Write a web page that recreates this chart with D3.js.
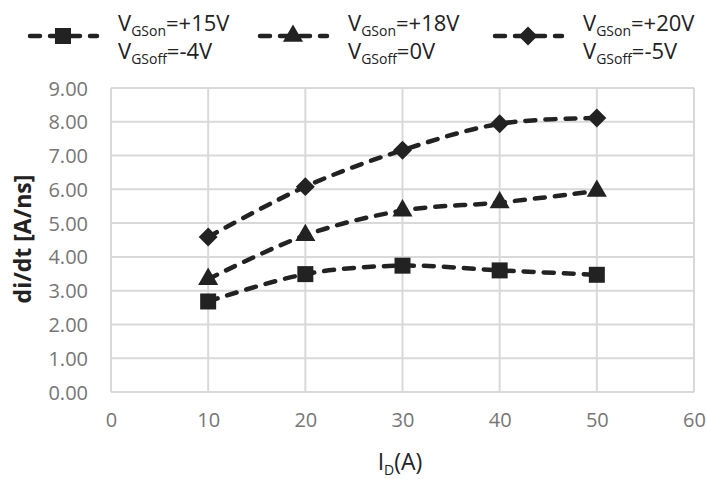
<!DOCTYPE html>
<html>
<head>
<meta charset="utf-8">
<script src="https://cdn.jsdelivr.net/npm/d3@7"></script>
<style>
  body { margin: 0; background: #fff; }
  text { font-family: "Open Sans", sans-serif; }
</style>
</head>
<body>
<svg id="chart" width="706" height="479"></svg>
<script>
const currents = [10, 20, 30, 40, 50]
const vgs15 = [2.68, 3.49, 3.74, 3.60, 3.47]
const vgs18 = [3.34, 4.64, 5.37, 5.61, 5.95]
const vgs20 = [4.59, 6.08, 7.16, 7.94, 8.11]
const xTicks = [0, 10, 20, 30, 40, 50, 60]
const yTicks = [0, 1, 2, 3, 4, 5, 6, 7, 8, 9]

const series = [
  { on: "+15V", off: "-4V", values: vgs15, marker: "square" },
  { on: "+18V", off: "0V", values: vgs18, marker: "triangle" },
  { on: "+20V", off: "-5V", values: vgs20, marker: "diamond" }
]

const ink = "#222"
const svg = d3.select("#chart")

const x = d3.scaleLinear().domain([0, 60]).range([111, 694])
const y = d3.scaleLinear().domain([0, 9]).range([392, 88])

// gridlines
svg.append("g")
  .selectAll("line.h").data(yTicks).enter()
  .append("line")
    .attr("x1", x(0)).attr("x2", x(60))
    .attr("y1", d => y(d)).attr("y2", d => y(d))
    .attr("stroke", "#d9d9d9").attr("stroke-width", 2)
svg.append("g")
  .selectAll("line.v").data(xTicks).enter()
  .append("line")
    .attr("x1", d => x(d)).attr("x2", d => x(d))
    .attr("y1", y(0)).attr("y2", y(9))
    .attr("stroke", "#d9d9d9").attr("stroke-width", 2)

// axes (labels only)
const xAxis = svg.append("g")
  .attr("transform", `translate(0,${y(0)})`)
  .call(d3.axisBottom(x).tickValues(xTicks).tickSize(0).tickPadding(21))
const yAxis = svg.append("g")
  .attr("transform", `translate(${x(0)},0)`)
  .call(d3.axisLeft(y).tickValues(yTicks).tickFormat(d3.format(".2f")).tickSize(0).tickPadding(23))
;[xAxis, yAxis].forEach(a => {
  a.select(".domain").remove()
  a.selectAll("text")
    .attr("fill", "#767676")
    .style("font-family", "'Open Sans', sans-serif")
    .style("font-size", "20px")
})
yAxis.selectAll("text").attr("dy", "0.35em")

// axis titles
svg.append("text")
  .attr("transform", "translate(31,239) rotate(-90)")
  .attr("text-anchor", "middle")
  .attr("font-size", 23).attr("font-weight", "bold").attr("fill", ink)
  .text("di/dt [A/ns]")

const xt = svg.append("text")
  .attr("x", 400).attr("y", 470)
  .attr("text-anchor", "middle")
  .attr("font-size", 23).attr("fill", ink)
xt.append("tspan").text("I")
xt.append("tspan").attr("font-size", 14).attr("dy", 5).text("D")
xt.append("tspan").attr("dy", -5).text("(A)")

function symbolFor(m) {
  if (m === "square") return d3.symbol().type(d3.symbolSquare).size(256)()
  if (m === "triangle") return d3.symbol().type(d3.symbolTriangle).size(175)()
  return d3.symbol().type(d3.symbolSquare).size(180)()
}
const rot = m => m === "diamond" ? " rotate(45)" : ""

const line = d3.line()
  .x(d => x(d[0]))
  .y(d => y(d[1]))
  .curve(d3.curveCardinal.tension(0))

series.forEach(s => {
  const pts = currents.map((c, i) => [c, s.values[i]])
  svg.append("path")
    .datum(pts)
    .attr("d", line)
    .attr("fill", "none")
    .attr("stroke", ink)
    .attr("stroke-width", 4.5)
    .attr("stroke-linecap", "round")
    .attr("stroke-dasharray", "10,10")
  svg.append("g").selectAll("path").data(pts).enter()
    .append("path")
      .attr("d", symbolFor(s.marker))
      .attr("transform", d => `translate(${x(d[0])},${y(d[1])})` + rot(s.marker))
      .attr("fill", ink)
})

// legend
const legendX = [63, 293, 528]
series.forEach((s, i) => {
  const g = svg.append("g").attr("transform", `translate(${legendX[i]},36)`)
  g.append("line")
    .attr("x1", -33).attr("x2", 34)
    .attr("stroke", ink).attr("stroke-width", 4.5)
    .attr("stroke-linecap", "round")
    .attr("stroke-dasharray", "10,10")
  g.append("path").attr("d", symbolFor(s.marker)).attr("transform", rot(s.marker).trim()).attr("fill", ink)

  const t1 = g.append("text").attr("x", 55).attr("y", -5).attr("font-size", 22).attr("fill", ink)
  t1.append("tspan").text("V")
  t1.append("tspan").attr("font-size", 14).attr("dy", 5).text("GSon")
  t1.append("tspan").attr("dy", -5).text("=" + s.on)
  const t2 = g.append("text").attr("x", 55).attr("y", 23).attr("font-size", 22).attr("fill", ink)
  t2.append("tspan").text("V")
  t2.append("tspan").attr("font-size", 14).attr("dy", 5).text("GSoff")
  t2.append("tspan").attr("dy", -5).text("=" + s.off)
})
</script>
</body>
</html>
